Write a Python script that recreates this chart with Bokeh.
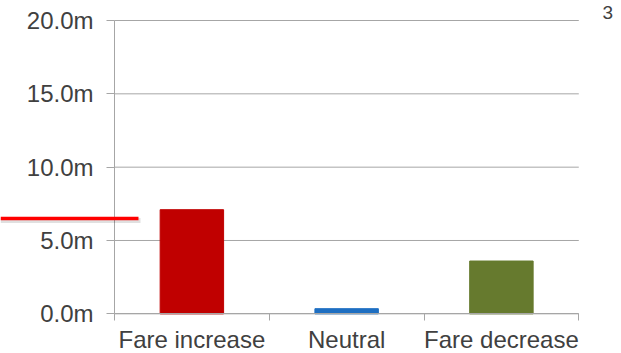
from bokeh.plotting import figure
from bokeh.models import (Range1d, FixedTicker, LinearAxis, Arrow, Label,
                          ColumnDataSource)
from bokeh.embed import file_html
from bokeh.resources import INLINE

# ---- data ----
categories = ["Fare increase", "Neutral", "Fare decrease"]
values = [7.1, 0.35, 3.6]          # millions
bar_colors = ["#C00000", "#1E6FC2", "#667A2E"]
y_ticks = [0, 5, 10, 15, 20]
y_tick_labels = ["0.0m", "5.0m", "10.0m", "15.0m", "20.0m"]
threshold = 6.5                    # red marker line (millions)
page_number = "3"

FONT = "Liberation Sans"
TXT = "#404040"
GRID = "#A6A6A6"

n = len(categories)
centers = [i + 0.5 for i in range(n)]
bounds = list(range(n + 1))
src = ColumnDataSource(dict(x=centers, top=values, color=bar_colors))

# frame covers the whole canvas; axes are placed at fixed data locations
p = figure(width=621, height=353, output_backend="svg", toolbar_location=None,
           x_range=Range1d(-0.7366, 3.276), y_range=Range1d(-2.706, 21.364),
           x_axis_type=None, y_axis_type=None, min_border=0)
p.outline_line_color = None
p.background_fill_color = "white"
p.border_fill_color = "white"
p.xgrid.visible = False
p.ygrid.visible = False

# horizontal gridlines across the plot area
p.segment(x0=[0] * len(y_ticks), x1=[n] * len(y_ticks), y0=y_ticks, y1=y_ticks,
          line_color=GRID, line_width=1)

p.vbar(x="x", top="top", bottom=0, width=0.41, color="color", source=src)

# y axis
yax = LinearAxis(ticker=FixedTicker(ticks=y_ticks), fixed_location=0,
                 bounds=(0, 20),
                 major_label_overrides={t: l for t, l in zip(y_ticks, y_tick_labels)})
yax.axis_line_color = GRID
yax.major_tick_line_color = GRID
yax.major_tick_out = 8
yax.major_tick_in = 0
yax.minor_tick_line_color = None
yax.major_label_standoff = 13
yax.major_label_text_font = FONT
yax.major_label_text_font_size = "24px"
yax.major_label_text_color = TXT
p.add_layout(yax, "left")

# x axis: labels at centers, tick marks at category boundaries
xax = LinearAxis(ticker=FixedTicker(ticks=centers, minor_ticks=bounds),
                 fixed_location=0, bounds=(0, n),
                 major_label_overrides={c: s for c, s in zip(centers, categories)})
xax.axis_line_color = GRID
xax.major_tick_line_color = None
xax.major_tick_out = 0
xax.major_tick_in = 0
xax.minor_tick_line_color = GRID
xax.minor_tick_out = 7
xax.minor_tick_in = 0
xax.major_label_standoff = 5
xax.major_label_text_font = FONT
xax.major_label_text_font_size = "24px"
xax.major_label_text_color = TXT
p.add_layout(xax, "below")

# red marker line with soft shadow
shadow = Arrow(end=None, x_start=-0.7366, x_end=0.168, y_start=threshold - 0.14,
               y_end=threshold - 0.14, line_color="#000000", line_alpha=0.12,
               line_width=5)
p.add_layout(shadow)
red = Arrow(end=None, x_start=-0.7366, x_end=0.155, y_start=threshold,
            y_end=threshold, line_color="#FF0000", line_width=3.5)
p.add_layout(red)

# page number
p.add_layout(Label(x=3.153, y=20.54, text=page_number, text_font=FONT,
                   text_font_size="19px", text_color=TXT,
                   text_baseline="middle", text_align="left"))

open("out.html", "w").write(file_html(p, INLINE))
